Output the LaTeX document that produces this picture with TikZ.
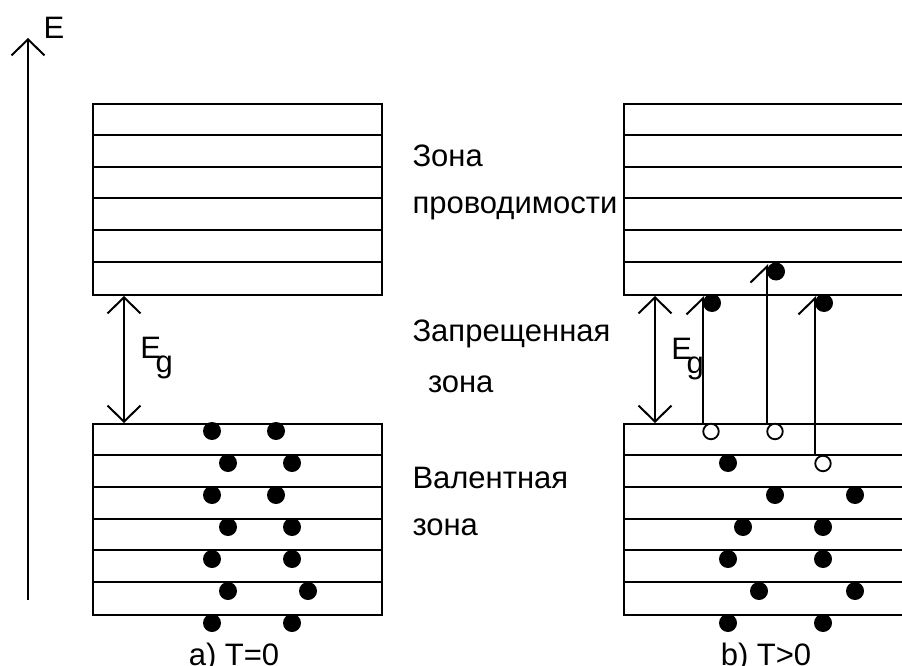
\documentclass[tikz,border=0pt]{standalone}
\usepackage{fontspec}
\setmainfont{Liberation Sans}
\usetikzlibrary{arrows.meta,calc}
\begin{document}
\begin{tikzpicture}[x=1pt,y=-1pt,line width=2pt,
  barb/.style={-{Straight Barb[length=16pt,width=33pt]}},
  dbarb/.style={{Straight Barb[length=16pt,width=33pt]}-{Straight Barb[length=16pt,width=33pt]}},
  hbarb/.style={-{Straight Barb[length=16pt,width=33pt,left]}},
  lbl/.style={anchor=base west,inner sep=0pt,font=\fontsize{31}{37}\selectfont},
  captext/.style={anchor=base,inner sep=0pt,font=\fontsize{31}{37}\selectfont},
  band/.style={draw,inner sep=0pt,minimum width=289pt,minimum height=191pt,anchor=north west},
  dot/.style={circle,fill=black,inner sep=0pt,minimum size=18pt},
  hole/.style={circle,draw=black,fill=white,inner sep=0pt,minimum size=15.5pt,line width=1.8pt},
]
\useasboundingbox (0,0) rectangle (902,666);
\clip (0,0) rectangle (902,666);

% energy axis
\coordinate (axb) at (28,600);
\coordinate (axt) at (28,38);
\draw[barb] (axb) -- (axt);
\node[lbl] (elab) at (42.6,39) {E};

% boxes
\node[band] (cbL) at (92,103) {};
\node[band] (vbL) at (92,423) {};
\node[band] (cbR) at (623,103) {};
\node[band] (vbR) at (623,423) {};
\foreach \b in {cbL,vbL,cbR,vbR}{
  \foreach \k in {1,...,5}{
    \draw ($(\b.north west)+(0,\k*31.833)$) -- ($(\b.north east)+(0,\k*31.833)$);
  }
}

% band gap arrows
\draw[dbarb] ([xshift=32pt]cbL.south west) -- ([xshift=32pt]vbL.north west);
\draw[dbarb] ([xshift=32pt]cbR.south west) -- ([xshift=32pt]vbR.north west);
\node[lbl] (egL) at (139.3,358) {E\kern-5.3pt\raisebox{-14.5pt}{g}};
\node[lbl] (egR) at (670.3,359.3) {E\kern-5.3pt\raisebox{-14.5pt}{g}};

% left valence electrons
\foreach \x/\y in {212/431,276/431, 228/463,292/463, 212/495,276/495,
                   228/527,292/527, 212/559,292/559, 228/591,308/591,
                   212/623,292/623}{
  \node[dot] at (\x,\y) {};
}

% right valence electrons
\foreach \x/\y in {728/463, 775/495,855/495, 743/527,823/527,
                   728/559,823/559, 759/591,855/591, 728/623,823/623}{
  \node[dot] at (\x,\y) {};
}

% transitions
\node[hole] (h1) at (711,431.5) {};
\node[hole] (h2) at (775,431.5) {};
\node[hole] (h3) at (823,463.5) {};
\coordinate (t1b) at ([xshift=80pt]vbR.north west);
\coordinate (t1t) at ([xshift=80pt]cbR.south west);
\coordinate (t2b) at ([xshift=144pt]vbR.north west);
\coordinate (t2t) at ($([xshift=144pt]cbR.south west)+(0,-31.833)$);
\coordinate (t3b) at ($([xshift=192pt]vbR.north west)+(0,31.833)$);
\coordinate (t3t) at ([xshift=192pt]cbR.south west);
\draw[hbarb] (t1b) -- (t1t);
\draw[hbarb] (t2b) -- (t2t);
\draw[hbarb] (t3b) -- (t3t);
\node[dot] (e1) at (712,303) {};
\node[dot] (e2) at (776,271.5) {};
\node[dot] (e3) at (824,303) {};

% labels
\node[lbl] (l1) at (411.5,166) {Зона};
\node[lbl] (l2) at (411.5,213.3) {проводимости};
\node[lbl] (l3) at (411.5,341.7) {Запрещенная};
\node[lbl] (l4) at (427,392.3) {зона};
\node[lbl] (l5) at (411.5,488.3) {Валентная};
\node[lbl] (l6) at (411.5,535) {зона};
\node[captext] (ca) at (234,665) {a) T=0};
\node[captext] (cb) at (766,665) {b) T>0};
\end{tikzpicture}
\end{document}
